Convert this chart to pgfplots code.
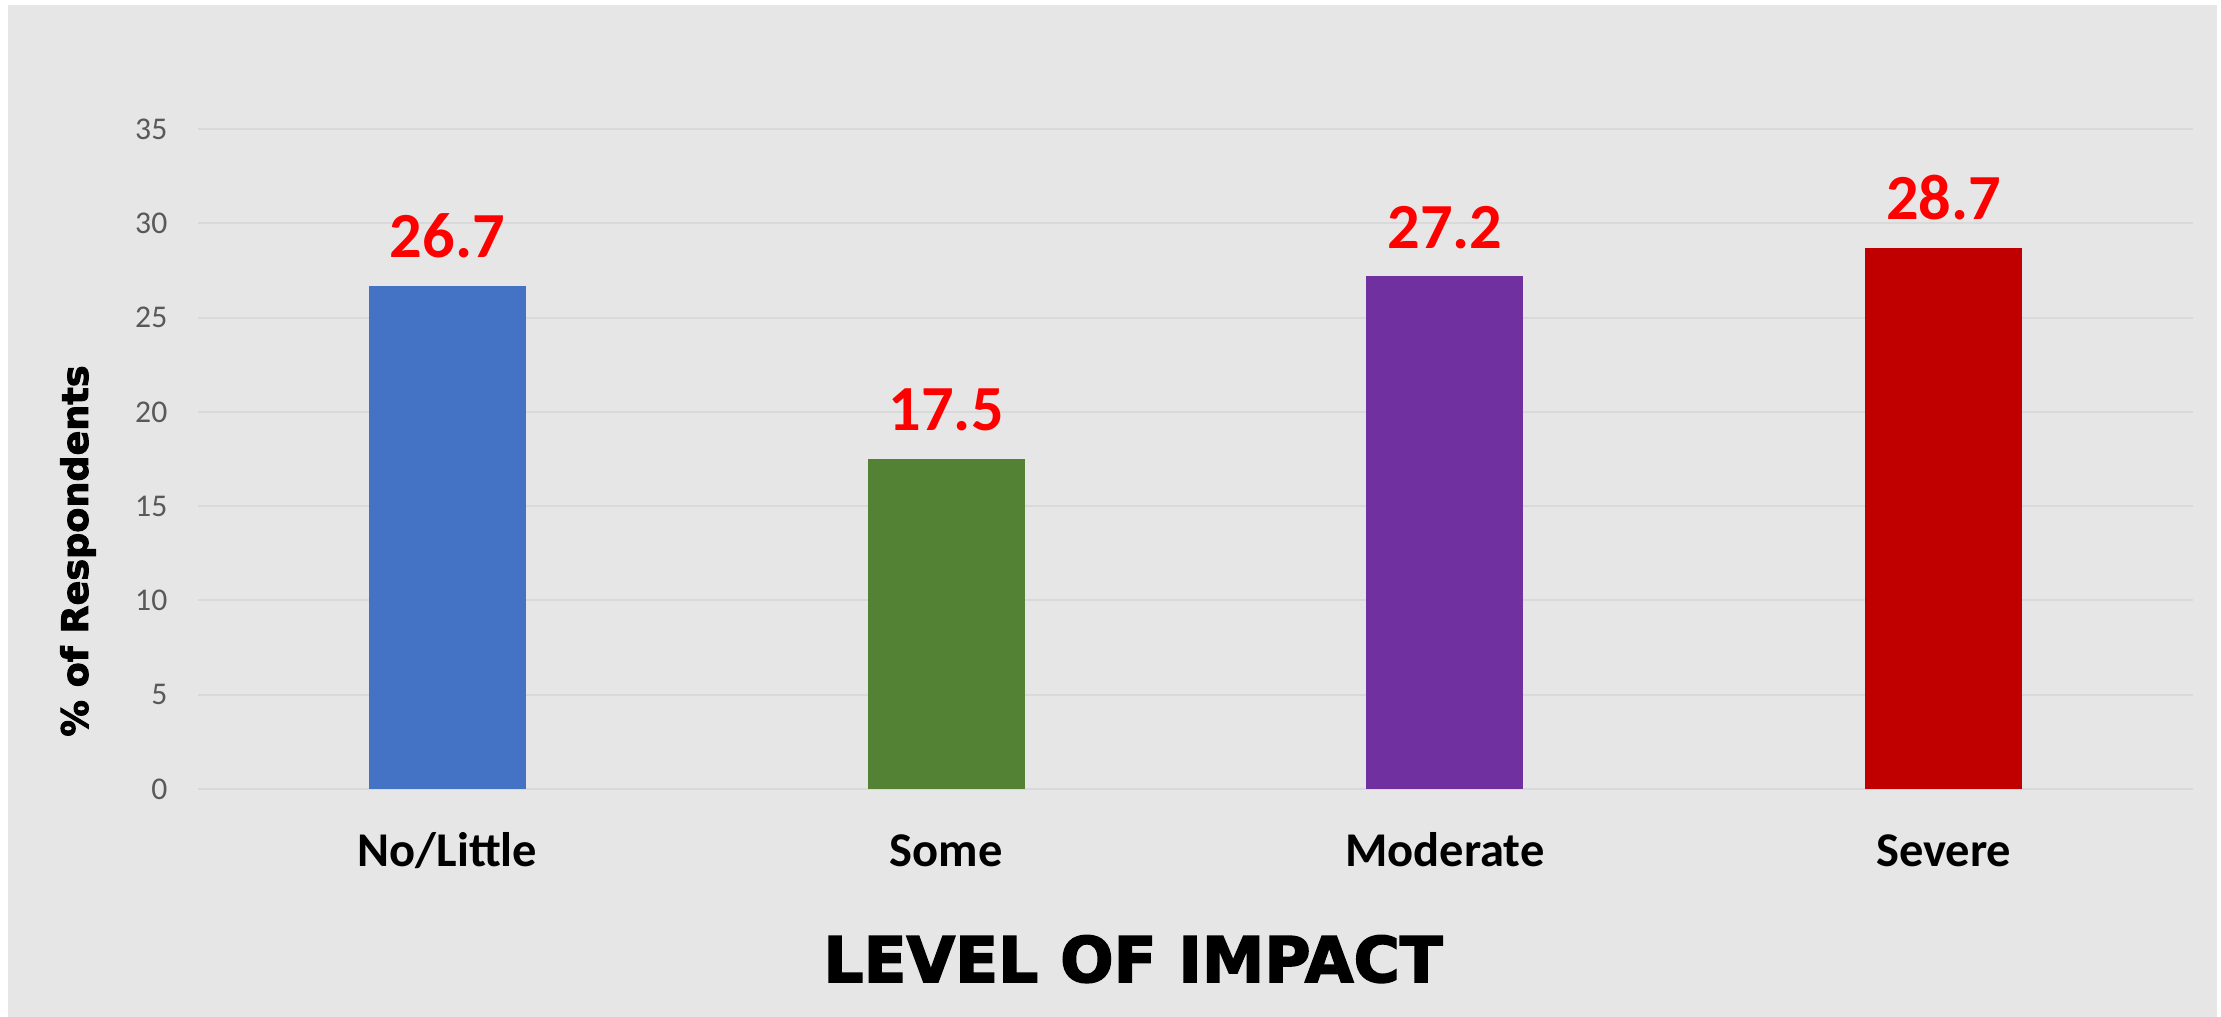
\documentclass[border=0pt]{standalone}
\usepackage{pgfplots}
\pgfplotsset{compat=1.18}
\usepackage{fontspec}
\setmainfont{Carlito}
\newfontfamily\heavyfont{DejaVu Sans}[BoldFeatures={FakeBold=2.5}]
\definecolor{bgc}{HTML}{E6E6E6}
\definecolor{gridc}{HTML}{D9D9D9}
\definecolor{tickc}{HTML}{595959}
\definecolor{cblue}{HTML}{4472C4}
\definecolor{cgreen}{HTML}{548235}
\definecolor{cpurple}{HTML}{7030A0}
\definecolor{cred}{HTML}{C00000}
\definecolor{valred}{HTML}{FF0000}
\begin{document}
\begin{tikzpicture}
\useasboundingbox (0,0) rectangle (222.1mm,101.7mm);
\fill[white] (0,0) rectangle (222.1mm,101.7mm);
\fill[bgc] (0.8mm,0) rectangle (221.7mm,101.2mm);
\begin{axis}[
  at={(19.8mm,22.8mm)}, anchor=south west,
  scale only axis, width=199.5mm, height=66mm,
  xmin=-0.5, xmax=3.5, ymin=0, ymax=35,
  ybar, bar width=15.7mm, bar shift=0pt,
  axis line style={draw=none},
  major tick length=0pt,
  xtick={0,1,2,3},
  xticklabels={No/Little,Some,Moderate,Severe},
  ytick={0,5,10,15,20,25,30,35},
  ymajorgrids, grid style={color=gridc, line width=0.55pt},
  /pgf/number format/assume math mode=true,
  yticklabel style={font=\fontsize{9}{9}\selectfont, text=tickc, anchor=east, inner sep=0pt, xshift=-3mm},
  xticklabel style={font=\fontsize{13.8}{14}\selectfont\bfseries, text=black, anchor=base, inner sep=0pt, yshift=-7.8mm},
  xlabel={LEVEL OF IMPACT},
  xlabel style={at={(axis description cs:0.4687,0)}, anchor=base, inner sep=0pt, yshift=-19.3mm, font=\fontsize{17.9}{18}\selectfont\heavyfont\bfseries},
  ylabel={\% of Respondents},
  ylabel style={at={(axis description cs:-0.05514,0.3606)}, anchor=base, inner sep=0pt, font=\fontsize{10.4}{11}\selectfont\heavyfont\bfseries},
  nodes near coords={\pgfmathprintnumber[fixed,fixed zerofill,precision=1,assume math mode=true]{\pgfplotspointmeta}},
  every node near coord/.append style={font=\fontsize{18.3}{18}\selectfont\bfseries, text=valred, anchor=base, inner sep=0pt, yshift=2.8mm},
  clip=false,
]
\addplot[fill=cblue, draw=none] coordinates {(0,26.7)};
\addplot[fill=cgreen, draw=none] coordinates {(1,17.5)};
\addplot[fill=cpurple, draw=none] coordinates {(2,27.2)};
\addplot[fill=cred, draw=none] coordinates {(3,28.7)};
\end{axis}
\end{tikzpicture}
\end{document}
